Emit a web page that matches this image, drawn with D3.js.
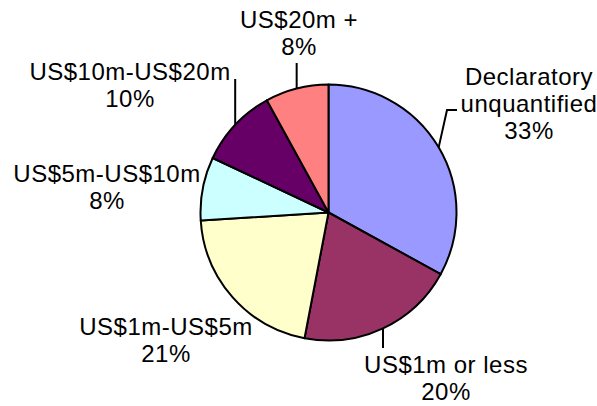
<!DOCTYPE html>
<html>
<head>
<meta charset="utf-8">
<script src="https://cdn.jsdelivr.net/npm/d3@7/dist/d3.min.js"></script>
<style>
  html, body { margin: 0; padding: 0; background: #ffffff; }
  svg { display: block; }
  text { font-family: "Liberation Sans", Arial, sans-serif; font-size: 24px; fill: #000; letter-spacing: 0.5px; }
</style>
</head>
<body>
<svg id="chart" width="597" height="406"></svg>
<script>
// ---- data ----
const categories = ["Declaratory unquantified", "US$1m or less", "US$1m-US$5m", "US$5m-US$10m", "US$10m-US$20m", "US$20m +"];
const values = [33, 20, 21, 8, 10, 8];
const labelLines = [
  ["Declaratory", "unquantified", "33%"],
  ["US$1m or less", "20%"],
  ["US$1m-US$5m", "21%"],
  ["US$5m-US$10m", "8%"],
  ["US$10m-US$20m", "10%"],
  ["US$20m +", "8%"]
];
const colors = ["#9999FF", "#993366", "#FFFFCC", "#CCFFFF", "#660066", "#FF8080"];

// ---- layout (positions only) ----
const cx = 328.5, cy = 212.5, R = 128;
const lineH = 27;
const labelPos = [
  { x: 529, y: 85 },
  { x: 446, y: 373 },
  { x: 166, y: 335 },
  { x: 107, y: 182 },
  { x: 130, y: 80 },
  { x: 299, y: 28 }
];
// leader end points (null x = vertical line)
const leaderEnds = [
  [[447, 110], [457, 110]],
  [[null, 348]],
  null,
  null,
  [[null, 79]],
  [[null, 63]]
];

const svg = d3.select("#chart");
const g = svg.append("g").attr("transform", `translate(${cx},${cy})`);

const data = categories.map((c, i) => ({ name: c, value: values[i], idx: i }));
const pie = d3.pie().value(d => d.value).sort(null);
const arcs = pie(data);
const arc = d3.arc().innerRadius(0).outerRadius(R);

g.selectAll("path.slice")
  .data(arcs)
  .join("path")
  .attr("class", "slice")
  .attr("d", arc)
  .attr("fill", d => colors[d.data.idx])
  .attr("stroke", "#000")
  .attr("stroke-width", 2)
  .attr("stroke-linejoin", "round");

// leader lines from slice mid-angle on the rim
arcs.forEach((a, i) => {
  const ends = leaderEnds[i];
  if (!ends) return;
  const mid = (a.startAngle + a.endAngle) / 2;
  const sx = cx + R * Math.sin(mid);
  const sy = cy - R * Math.cos(mid);
  const pts = [[sx, sy]];
  ends.forEach(p => pts.push([p[0] === null ? sx : p[0], p[1]]));
  svg.append("path")
    .attr("d", d3.line()(pts))
    .attr("fill", "none")
    .attr("stroke", "#000")
    .attr("stroke-width", 2);
});

// labels
labelLines.forEach((lines, i) => {
  const t = svg.append("text")
    .attr("text-anchor", "middle")
    .attr("x", labelPos[i].x)
    .attr("y", labelPos[i].y);
  lines.forEach((ln, j) => {
    t.append("tspan")
      .attr("x", labelPos[i].x)
      .attr("dy", j === 0 ? 0 : lineH)
      .text(ln);
  });
});
</script>
</body>
</html>
